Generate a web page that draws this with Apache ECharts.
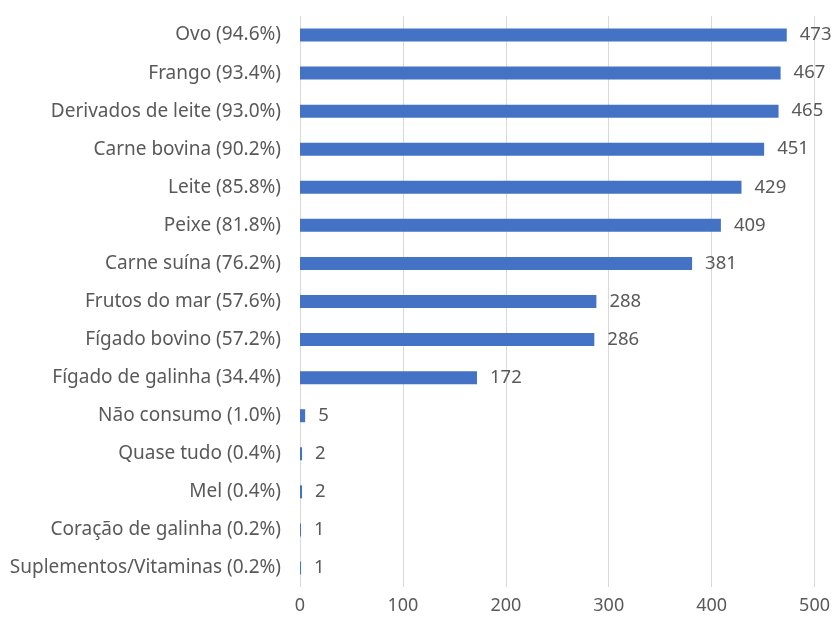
<!DOCTYPE html>
<html>
<head>
<meta charset="utf-8">
<script src="https://cdn.jsdelivr.net/npm/echarts@6/dist/echarts.min.js"></script>
<style>
  html, body { margin: 0; padding: 0; background: #fff; }
  #chart { width: 833px; height: 623px; }
</style>
</head>
<body>
<div id="chart"></div>
<script>
// categories listed top to bottom as in the picture
const categories = [
  "Ovo (94.6%)",
  "Frango (93.4%)",
  "Derivados de leite (93.0%)",
  "Carne bovina (90.2%)",
  "Leite (85.8%)",
  "Peixe (81.8%)",
  "Carne suína (76.2%)",
  "Frutos do mar (57.6%)",
  "Fígado bovino (57.2%)",
  "Fígado de galinha (34.4%)",
  "Não consumo (1.0%)",
  "Quase tudo (0.4%)",
  "Mel (0.4%)",
  "Coração de galinha (0.2%)",
  "Suplementos/Vitaminas (0.2%)"
];
const counts = [473, 467, 465, 451, 429, 409, 381, 288, 286, 172, 5, 2, 2, 1, 1];
const xTicks = [0, 100, 200, 300, 400, 500];

const chart = echarts.init(document.getElementById("chart"));
const fontFamily = "Noto Sans";
const textColor = "#595959";

chart.setOption({
  animation: false,
  grid: { left: 300, right: 18, top: 16, bottom: 36, containLabel: false },
  xAxis: {
    type: "value",
    min: xTicks[0],
    max: xTicks[xTicks.length - 1],
    interval: 100,
    axisLine: { show: false },
    axisTick: { show: false },
    splitLine: { lineStyle: { color: "#d9d9d9", width: 1 } },
    axisLabel: { color: textColor, fontSize: 18, fontFamily: fontFamily, margin: 10 }
  },
  yAxis: {
    type: "category",
    inverse: true,
    data: categories,
    axisLine: { show: false },
    axisTick: { show: false },
    axisLabel: { color: textColor, fontSize: 19, fontFamily: fontFamily, margin: 19 }
  },
  series: [
    {
      type: "bar",
      data: counts,
      barWidth: 13,
      itemStyle: { color: "#4472c4" },
      label: {
        show: true,
        position: "right",
        distance: 13,
        color: textColor,
        fontSize: 18.5,
        fontFamily: fontFamily
      }
    }
  ]
});
</script>
</body>
</html>
